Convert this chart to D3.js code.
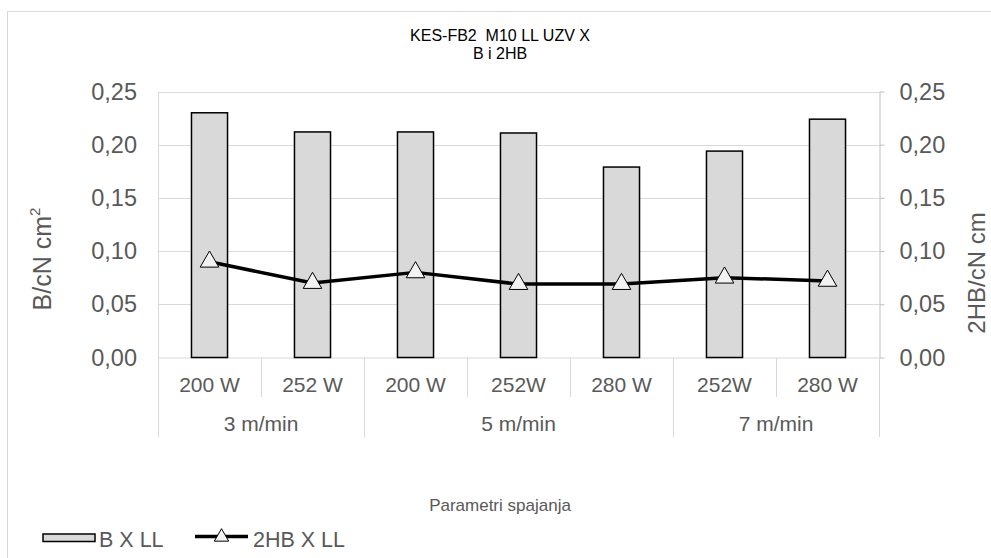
<!DOCTYPE html>
<html>
<head>
<meta charset="utf-8">
<script src="https://cdn.jsdelivr.net/npm/d3@7/dist/d3.min.js"></script>
<style>
  html, body { margin: 0; padding: 0; background: #fff; }
  svg { display: block; font-family: Arial, "Liberation Sans", sans-serif; }
</style>
</head>
<body>
<svg id="chart" width="991" height="558"></svg>
<script>
// Power levels (sub-categories) and their speed groups
const categories = ["200 W", "252 W", "200 W", "252W", "280 W", "252W", "280 W"];
const groups = [
  { label: "3 m/min", from: 0, to: 2 },
  { label: "5 m/min", from: 2, to: 5 },
  { label: "7 m/min", from: 5, to: 7 }
];
// Bending rigidity B (bars, left axis)
const bValues = [0.230, 0.212, 0.212, 0.211, 0.179, 0.194, 0.224];
// Bending hysteresis 2HB (line, right axis)
const hbValues = [0.090, 0.070, 0.080, 0.069, 0.069, 0.075, 0.072];
const yTicks = [0, 0.05, 0.10, 0.15, 0.20, 0.25];

const svg = d3.select("#chart");
const plot = { left: 158, right: 879, top: 91.5, bottom: 357.5 };
const grid = "#d9d9d9";
const textGray = "#595959";
const fmt = v => d3.format(".2f")(v).replace(".", ",");

// Outer chart border
svg.append("rect")
  .attr("x", 7.5).attr("y", 11.5).attr("width", 1000).attr("height", 600)
  .attr("fill", "none").attr("stroke", grid).attr("stroke-width", 1);

const x = d3.scaleBand().domain(d3.range(categories.length))
  .range([plot.left, plot.right]).padding(0);
const yL = d3.scaleLinear().domain([0, 0.25]).range([plot.bottom, plot.top]);
const yR = d3.scaleLinear().domain([0, 0.25]).range([plot.bottom, plot.top]);

// Horizontal gridlines
svg.append("g").selectAll("line").data(yTicks.slice(1)).join("line")
  .attr("x1", plot.left).attr("x2", plot.right)
  .attr("y1", d => Math.round(yL(d)) + 0.5).attr("y2", d => Math.round(yL(d)) + 0.5)
  .attr("stroke", grid).attr("stroke-width", 1);

// Left value axis (labels only)
const leftAxis = svg.append("g")
  .attr("transform", `translate(${plot.left},0)`)
  .call(d3.axisLeft(yL).tickValues(yTicks).tickFormat(fmt).tickSize(0).tickPadding(21));
leftAxis.select(".domain").remove();
leftAxis.selectAll("text").attr("fill", textGray).attr("font-size", 23.5)
  .attr("font-family", "Arial, 'Liberation Sans', sans-serif");

// Right value axis
const rightAxis = svg.append("g")
  .attr("transform", `translate(${plot.right + 0.5},0)`)
  .call(d3.axisRight(yR).tickValues(yTicks).tickFormat(fmt).tickSize(5).tickPadding(15).tickSizeOuter(0));
rightAxis.select(".domain").attr("stroke", "#bfbfbf");
rightAxis.selectAll(".tick line").attr("stroke", "#bfbfbf");
rightAxis.selectAll("text").attr("fill", textGray).attr("font-size", 23.5)
  .attr("font-family", "Arial, 'Liberation Sans', sans-serif");

// Category axis: baseline and separators
const cat = svg.append("g");
cat.append("line")
  .attr("x1", plot.left).attr("x2", plot.right)
  .attr("y1", plot.bottom + 0.5).attr("y2", plot.bottom + 0.5)
  .attr("stroke", grid);
const groupEdges = new Set([0, ...groups.map(g => g.to)]);
d3.range(categories.length + 1).forEach(i => {
  const xx = Math.round(i < categories.length ? x(i) : plot.right) + 0.5;
  cat.append("line")
    .attr("x1", xx).attr("x2", xx)
    .attr("y1", i === 0 ? plot.top : plot.bottom)
    .attr("y2", groupEdges.has(i) ? 437 : 397)
    .attr("stroke", grid);
});
cat.selectAll("text.sub").data(categories).join("text")
  .attr("class", "sub")
  .attr("x", (d, i) => x(i) + x.bandwidth() / 2)
  .attr("y", 385).attr("dy", "0.35em")
  .attr("text-anchor", "middle").attr("font-size", 21).attr("fill", textGray)
  .text(d => d);
cat.selectAll("text.grp").data(groups).join("text")
  .attr("class", "grp")
  .attr("x", d => (x(d.from) + (d.to < categories.length ? x(d.to) : plot.right)) / 2)
  .attr("y", 424).attr("dy", "0.35em")
  .attr("text-anchor", "middle").attr("font-size", 21).attr("fill", textGray)
  .text(d => d.label);

// Bars
const barW = x.bandwidth() * 0.35;
svg.append("g").selectAll("rect").data(bValues).join("rect")
  .attr("x", (d, i) => x(i) + (x.bandwidth() - barW) / 2)
  .attr("y", d => yL(d))
  .attr("width", barW)
  .attr("height", d => plot.bottom - yL(d))
  .attr("fill", "#d9d9d9").attr("stroke", "#000").attr("stroke-width", 1.5);

// Line series with triangle markers
const cx = i => x(i) + x.bandwidth() / 2;
svg.append("path")
  .datum(hbValues)
  .attr("d", d3.line().x((d, i) => cx(i)).y(d => yR(d)))
  .attr("fill", "none").attr("stroke", "#000").attr("stroke-width", 3.5)
  .attr("stroke-linejoin", "round");
const tri = d3.symbol().type(d3.symbolTriangle).size(150);
svg.append("g").selectAll("path").data(hbValues).join("path")
  .attr("d", tri)
  .attr("transform", (d, i) => `translate(${cx(i)},${yR(d)})`)
  .attr("fill", "#f2f2f2").attr("stroke", "#000").attr("stroke-width", 1);

// Chart title
const title = svg.append("text").attr("text-anchor", "middle")
  .attr("font-size", 16).attr("fill", "#000").style("white-space", "pre");
title.append("tspan").attr("x", 500).attr("y", 40.5).text("KES-FB2  M10 LL UZV X");
title.append("tspan").attr("x", 500).attr("y", 59).text("B i 2HB");

// Axis titles
const lt = svg.append("text")
  .attr("transform", "translate(51,259) rotate(-90)")
  .attr("text-anchor", "middle").attr("font-size", 25).attr("fill", textGray);
lt.append("tspan").text("B/cN cm");
lt.append("tspan").attr("font-size", 15).attr("dy", -11).text("2");

svg.append("text")
  .attr("transform", "translate(985,273) rotate(-90)")
  .attr("text-anchor", "middle").attr("font-size", 24).attr("fill", textGray)
  .text("2HB/cN cm");

svg.append("text")
  .attr("x", 500).attr("y", 505).attr("dy", "0.35em")
  .attr("text-anchor", "middle").attr("font-size", 17).attr("fill", textGray)
  .text("Parametri spajanja");

// Legend
const lg = svg.append("g");
lg.append("rect").attr("x", 43).attr("y", 534).attr("width", 52).attr("height", 7.5)
  .attr("fill", "#d9d9d9").attr("stroke", "#000").attr("stroke-width", 1.5);
lg.append("text").attr("x", 99).attr("y", 539.5).attr("dy", "0.35em")
  .attr("font-size", 21.5).attr("fill", textGray).text("B X LL");
lg.append("line").attr("x1", 195).attr("x2", 248).attr("y1", 536.5).attr("y2", 536.5)
  .attr("stroke", "#000").attr("stroke-width", 3.5);
lg.append("path").attr("d", d3.symbol().type(d3.symbolTriangle).size(90))
  .attr("transform", "translate(221.5,537)")
  .attr("fill", "#f2f2f2").attr("stroke", "#000").attr("stroke-width", 1);
lg.append("text").attr("x", 253).attr("y", 539.5).attr("dy", "0.35em")
  .attr("font-size", 21.5).attr("fill", textGray).text("2HB X LL");
</script>
</body>
</html>
